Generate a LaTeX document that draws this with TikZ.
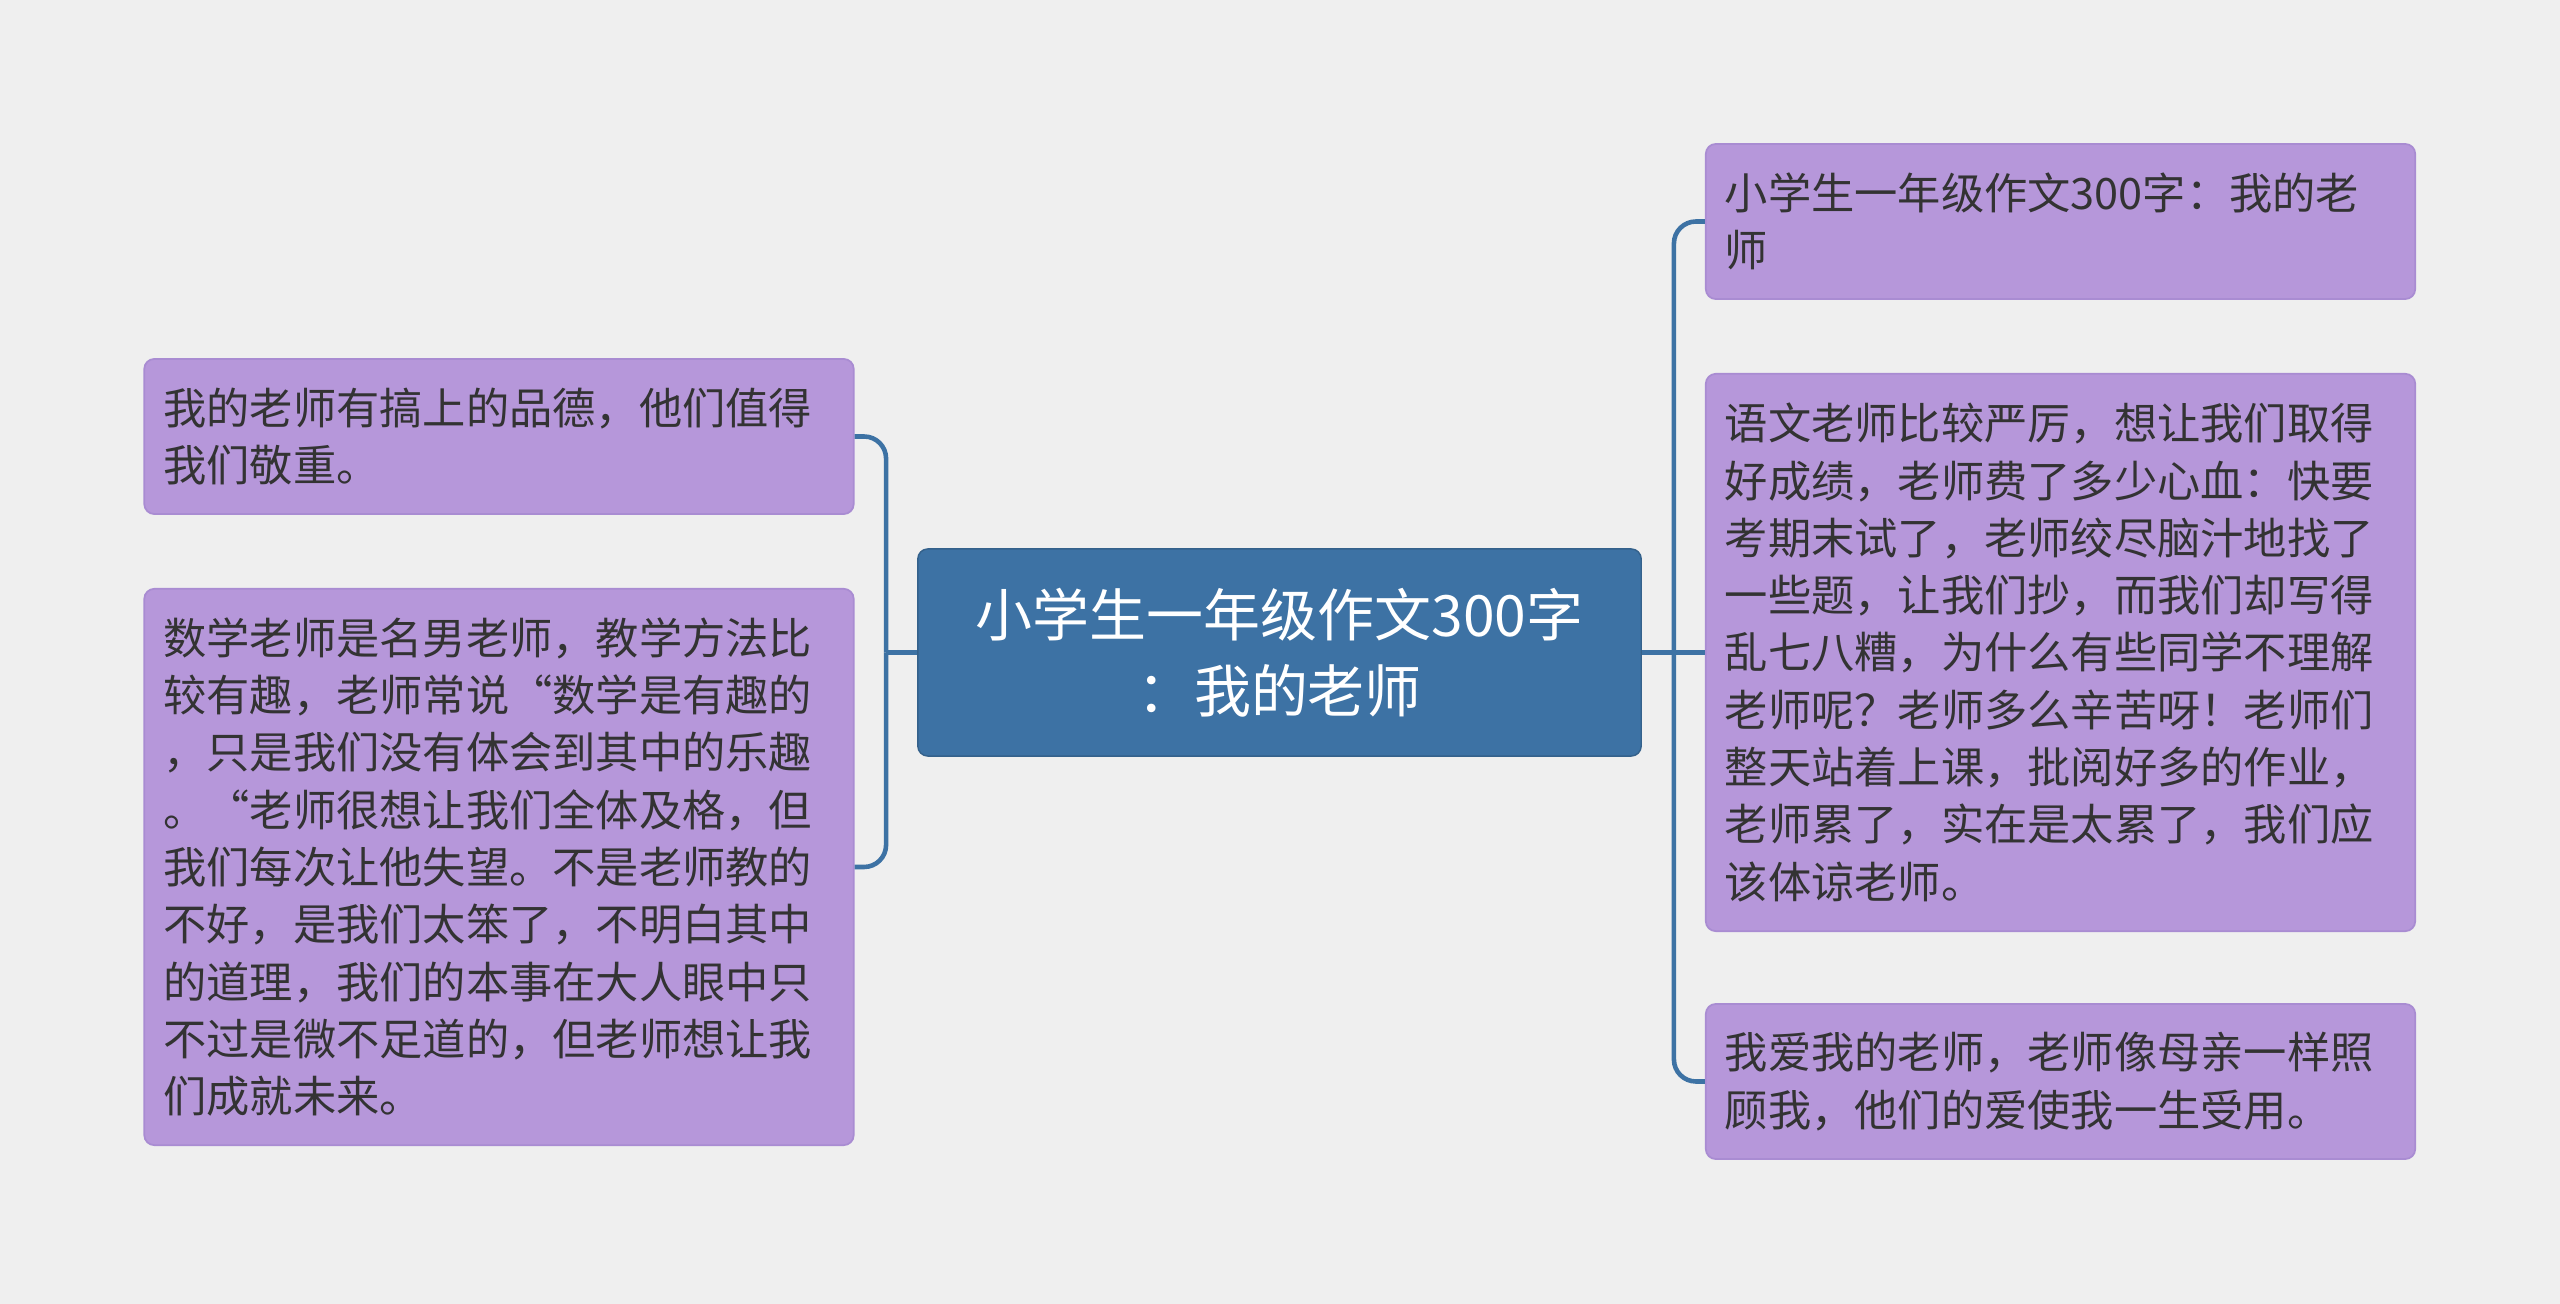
\documentclass[tikz,border=0pt]{standalone}
\usepackage{fontspec}
\newfontfamily\cjk{Noto Sans CJK SC}
\usepackage{tikz}
\usetikzlibrary{calc}
\definecolor{bgcol}{HTML}{EFEFEF}
\definecolor{rootcol}{HTML}{3D72A4}
\definecolor{leafcol}{HTML}{B697DA}
\definecolor{leafline}{HTML}{A98CD2}
\definecolor{txtcol}{HTML}{333333}

\tikzset{
  rootbox/.style={fill=rootcol, draw=rootcol!85!black, line width=0.4pt, rounded corners=0.1cm,
    minimum width=7.23cm, minimum height=2.07cm, align=center, text=white,
    font=\cjk\fontsize{16.2pt}{21.5pt}\selectfont},
  leafbox/.style={fill=leafcol, draw=leafline, line width=0.5pt, rounded corners=0.1cm,
    inner xsep=0.19cm, text width=6.71cm, align=left, text=txtcol,
    font=\cjk\fontsize{12.3pt}{16.3pt}\selectfont},
  link/.style={draw=rootcol, line width=1.3pt, rounded corners=0.22cm}
}

\begin{document}
\begin{tikzpicture}[x=0.01cm, y=-0.01cm]
    % Canvas
    \fill[bgcol] (0, 0) rectangle (2560, 1304);
    \useasboundingbox (0, 0) rectangle (2560, 1304);

    % Root
    \node[rootbox] (root) at (1279.5, 652.5) {小学生一年级作文300字\\：我的老师};

    % Left side
    \node[leafbox, minimum height=1.55cm] (l1) at (499, 436.5)
        {我的老师有搞上的品德，他们值得\\我们敬重。};
    \node[leafbox, minimum height=5.56cm] (l2) at (499, 867)
        {数学老师是名男老师，教学方法比\\较有趣，老师常说“数学是有趣的\\，只是我们没有体会到其中的乐趣\\。“老师很想让我们全体及格，但\\我们每次让他失望。不是老师教的\\不好，是我们太笨了，不明白其中\\的道理，我们的本事在大人眼中只\\不过是微不足道的，但老师想让我\\们成就未来。};

    % Right side
    \node[leafbox, minimum height=1.55cm] (r1) at (2060.5, 221.5)
        {小学生一年级作文300字：我的老\\师};
    \node[leafbox, minimum height=5.57cm] (r2) at (2060.5, 652.5)
        {语文老师比较严厉，想让我们取得\\好成绩，老师费了多少心血：快要\\考期末试了，老师绞尽脑汁地找了\\一些题，让我们抄，而我们却写得\\乱七八糟，为什么有些同学不理解\\老师呢？老师多么辛苦呀！老师们\\整天站着上课，批阅好多的作业，\\老师累了，实在是太累了，我们应\\该体谅老师。};
    \node[leafbox, minimum height=1.55cm] (r3) at (2060.5, 1081.5)
        {我爱我的老师，老师像母亲一样照\\顾我，他们的爱使我一生受用。};

    % Connectors
    \coordinate (lspine) at ($(root.west)+(-31, 0)$);
    \coordinate (rspine) at ($(root.east)+(32, 0)$);
    \draw[link] (root.west) -- (lspine);
    \draw[link] (lspine) |- (l1.east);
    \draw[link] (lspine) |- (l2.east);
    \draw[link] (root.east) -- (r2.west);
    \draw[link] (rspine) |- (r1.west);
    \draw[link] (rspine) |- (r3.west);
\end{tikzpicture}
\end{document}
